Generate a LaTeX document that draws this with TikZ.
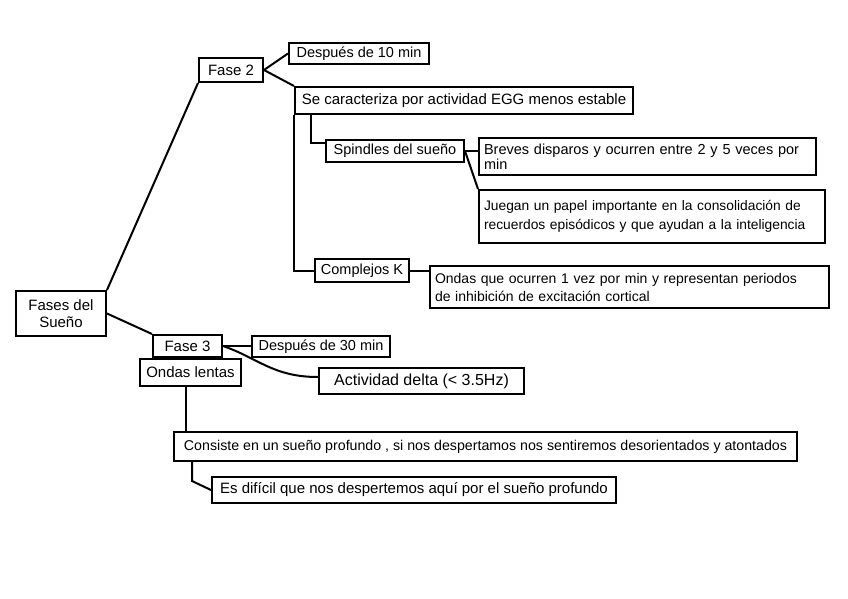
\documentclass[tikz,border=0pt]{standalone}
\usepackage{fontspec}
\setmainfont{Liberation Sans}
\usetikzlibrary{calc}
\tikzset{
  box/.style={draw=black, line width=2pt, inner xsep=5pt, inner ysep=0pt, font=\fontsize{14.5}{15.5}\selectfont},
  link/.style={draw=black, line width=2pt},
}
\begin{document}
\begin{tikzpicture}[x=1pt,y=-1pt]
\useasboundingbox[fill=white] (0,0) rectangle (848,599);

\node[box, minimum width=90, minimum height=45, align=center, font=\fontsize{15}{17}\selectfont] (fases) at (61,313.5) {Fases del\\Sueño};
\node[box, minimum width=64, minimum height=24, font=\fontsize{15}{16}\selectfont] (fase2) at (231,70) {Fase 2};
\node[box, minimum width=140, minimum height=21] (d10) at (359,53.5) {Después de 10 min};
\node[box, minimum width=338, minimum height=27, font=\fontsize{15}{16}\selectfont] (secar) at (464,100.5) {Se caracteriza por actividad EGG menos estable};
\node[box, minimum width=138, minimum height=22] (spind) at (395,151) {Spindles del sueño};
\node[box, text width=327, align=left, minimum height=37] (breves) at (647.5,156.5) {Breves disparos y ocurren entre 2 y 5 veces por\\min};
\node[box, text width=336, align=left, minimum height=53, font=\fontsize{13.8}{19}\selectfont] (juegan) at (652,216.5) {Juegan un papel importante en la consolidación de\\recuerdos episódicos y que ayudan a la inteligencia};
\node[box, minimum width=94, minimum height=23] (compk) at (362,270.5) {Complejos K};
\node[box, text width=389, align=left, minimum height=42, font=\fontsize{14}{18}\selectfont] (ondas) at (629.5,287) {Ondas que ocurren 1 vez por min y representan periodos\\de inhibición de excitación cortical};
\node[box, minimum width=69, minimum height=22, font=\fontsize{15}{16}\selectfont] (fase3) at (187.5,346) {Fase 3};
\node[box, minimum width=101, minimum height=27, font=\fontsize{15}{16}\selectfont] (lentas) at (190.5,372.5) {Ondas lentas};
\node[box, minimum width=138, minimum height=21] (d30) at (321,346.5) {Después de 30 min};
\node[box, minimum width=205, minimum height=26, font=\fontsize{16}{17}\selectfont] (delta) at (421.5,381) {Actividad delta (< 3.5Hz)};
\node[box, minimum width=623, minimum height=29, font=\fontsize{14.2}{15}\selectfont] (consiste) at (485.5,446.5) {Consiste en un sueño profundo , si nos despertamos nos sentiremos desorientados y atontados};
\node[box, minimum width=404, minimum height=26, font=\fontsize{15}{16}\selectfont] (dificil) at (414,490) {Es difícil que nos despertemos aquí por el sueño profundo};

\draw[link] (fase2.south west) -- (fases.north east);
\draw[link] (fase2.east) -- (d10.west);
\draw[link] (fase2.east) -- (secar.north west);
\draw[link] (secar.south west) |- (compk.west);
\coordinate (sv) at ($(secar.south west)+(17,0)$);
\coordinate (sp) at ($(spind.north west)+(0,4)$);
\draw[link] (sv) |- (sp);
\draw[link] (spind.east) -- (spind.east -| breves.west);
\draw[link] (spind.east) -- (juegan.north west);
\draw[link] (compk.east) -- (compk.east -| ondas.west);
\draw[link] (fases.east) -- (fase3.north west);
\draw[link] (fase3.east) -- (fase3.east -| d30.west);
\coordinate (dl) at ($(delta.west)+(0,-4)$);
\draw[link] (fase3.east) .. controls +(35,12) and +(-45,0) .. (dl);
\coordinate (lv) at ($(lentas.south)+(-5,0)$);
\draw[link] (lv) -- (lv |- consiste.north);
\coordinate (cv) at ($(consiste.south west)+(19,0)$);
\draw[link] (cv) -- ++(0,19) -- (dificil.west);
\end{tikzpicture}
\end{document}
